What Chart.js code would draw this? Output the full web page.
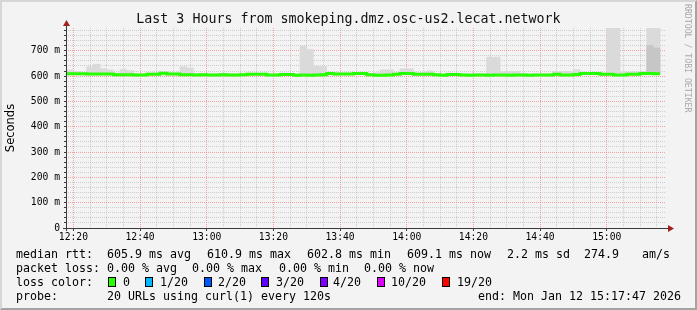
<!DOCTYPE html>
<html>
<head>
<meta charset="utf-8">
<script src="https://cdn.jsdelivr.net/npm/chart.js@4.4.1/dist/chart.umd.min.js"></script>
<style>
html,body{margin:0;padding:0;}
body{width:697px;height:310px;background:#f3f3f3;position:relative;overflow:hidden;font-family:"DejaVu Sans Mono",monospace;color:#000;}
#c{position:absolute;left:0;top:0;}
#frame{position:absolute;left:0;top:0;width:697px;height:310px;box-sizing:border-box;border-style:solid;border-width:2px;border-color:#d6d6d6 #a4a4a4 #a4a4a4 #d6d6d6;pointer-events:none;}
#title{position:absolute;left:0;width:697px;top:11px;text-align:center;font-size:13.3px;line-height:16px;white-space:pre;color:#111;}
#wm{position:absolute;left:683px;top:4px;writing-mode:vertical-rl;font-size:8.2px;color:#a9a9a9;white-space:pre;letter-spacing:0px;}
.t{position:absolute;white-space:pre;font-size:11.63px;line-height:14px;}
.box{position:absolute;width:8px;height:10px;box-sizing:border-box;border:1px solid #000;}
</style>
</head>
<body>
<canvas id="c" width="697" height="310"></canvas>
<div id="title">Last 3 Hours from smokeping.dmz.osc-us2.lecat.network</div>
<div id="wm">RRDTOOL / TOBI OETIKER</div>

<div class="t" style="left:16px;top:247px">median rtt:</div>
<div class="t" style="left:107px;top:247px">605.9 ms avg</div>
<div class="t" style="left:207px;top:247px">610.9 ms max</div>
<div class="t" style="left:307px;top:247px">602.8 ms min</div>
<div class="t" style="left:407px;top:247px">609.1 ms now</div>
<div class="t" style="left:507px;top:247px">2.2 ms sd</div>
<div class="t" style="left:584px;top:247px">274.9</div>
<div class="t" style="left:642px;top:247px">am/s</div>

<div class="t" style="left:16px;top:261px">packet loss:</div>
<div class="t" style="left:107px;top:261px">0.00 % avg</div>
<div class="t" style="left:192px;top:261px">0.00 % max</div>
<div class="t" style="left:279px;top:261px">0.00 % min</div>
<div class="t" style="left:364px;top:261px">0.00 % now</div>

<div class="t" style="left:16px;top:275px">loss color:</div>
<div id="lossLegend"></div>

<div class="t" style="left:16px;top:289px">probe:</div>
<div class="t" style="left:107px;top:289px">20 URLs using curl(1) every 120s</div>
<div class="t" style="left:478px;top:289px">end: Mon Jan 12 15:17:47 2026</div>

<div id="frame"></div>

<script>
// ---------- data (times in minutes since midnight, values in ms) ----------
const viewStartMinute = 737.783;   // 12:17:47
const viewEndMinute   = 917.783;   // 15:17:47
const firstStepMinute = 738;       // 12:18
const stepMinutes     = 2;

const medianMs = [
  609,609,609,608,608,608,608,605,605,605,
  604,604,607,607,611,608,608,605,605,604,
  605,604,604,605,604,604,605,607,607,607,
  604,604,606,606,603,604,603,604,605,610,
  608,608,608,610,610,605,603,603,604,607,
  610,610,607,607,607,605,603,606,606,604,
  603,604,604,603,604,604,603,604,604,603,
  604,604,604,607,604,604,606,610,610,610,
  607,607,604,604,607,607,610,610,609
];

const smokeMaxMs = [
  624,619,614,637,647,629,624,612,626,622,
  610,610,613,614,616,614,613,637,632,610,
  611,609,610,611,610,609,611,612,612,612,
  609,610,612,611,609,718,705,638,638,616,
  614,613,613,615,616,610,614,625,625,613,
  629,629,613,614,621,611,609,612,611,609,
  610,610,609,675,675,617,619,619,610,609,
  610,609,610,619,619,619,625,616,615,616,
  613,790,790,617,617,617,619,790,790
];

const smokeMinMs = [
  605,605,605,604,604,604,604,601,601,601,
  600,600,603,603,606,604,604,601,601,600,
  601,600,600,601,600,600,601,603,603,603,
  600,600,602,602,599,600,599,600,601,606,
  604,604,604,606,606,601,599,599,600,603,
  606,606,603,603,603,601,599,602,602,600,
  599,600,600,599,600,600,599,600,600,599,
  600,600,600,603,600,600,602,606,606,606,
  603,603,600,600,603,603,606,606,605
];

// darker inner smoke band (only where visible): step index, top value
const innerSteps = [87, 88];
const innerTopMs = [721, 711];

const xTickLabels = ['12:20','12:40','13:00','13:20','13:40','14:00','14:20','14:40','15:00'];
const yTickLabels = ['0','100 m','200 m','300 m','400 m','500 m','600 m','700 m'];

const lossLabels = ['0','1/20','2/20','3/20','4/20','10/20','19/20'];
const lossColors = ['#26ff00','#00b8ff','#0059ff','#5e00ff','#7e00ff','#dd00ff','#ff0000'];
const lossBoxX   = [108,145,204,261,320,377,442];
const lossTextX  = [123,160,218,276,333,391,457];

// ---------- legend boxes ----------
const ll = document.getElementById('lossLegend');
lossLabels.forEach((lab, i) => {
  const b = document.createElement('div');
  b.className = 'box';
  b.style.left = lossBoxX[i] + 'px';
  b.style.top = '277px';
  b.style.background = lossColors[i];
  ll.appendChild(b);
  const t = document.createElement('div');
  t.className = 't';
  t.style.left = lossTextX[i] + 'px';
  t.style.top = '275px';
  t.textContent = lab;
  ll.appendChild(t);
});

// ---------- datasets ----------
const medianPts = medianMs.map((v, i) => ({x: firstStepMinute + i * stepMinutes, y: v / 1000}));
medianPts.push({x: firstStepMinute + medianMs.length * stepMinutes, y: medianMs[medianMs.length - 1] / 1000});

const smokePts = smokeMaxMs.map((v, i) => ({x: firstStepMinute + i * stepMinutes + stepMinutes / 2, y: [smokeMinMs[i] / 1000, v / 1000]}));
const innerPts = innerSteps.map((s, k) => ({x: firstStepMinute + s * stepMinutes + stepMinutes / 2, y: [medianMs[s] / 1000, innerTopMs[k] / 1000]}));

const isMajorX = v => Math.round(v) % 20 === 0;
const isMajorY = v => Math.round(v * 1000) % 100 === 0;
const MAJOR = 'rgba(240,110,110,0.6)';
const MINOR = 'rgba(160,160,160,0.45)';
const AXIS = '#3a3a3a';
const ARROW = '#a11f1f';

const axisPlugin = {
  id: 'rrdAxes',
  afterDatasetsDraw(chart) {
    const {ctx, chartArea: a} = chart;
    ctx.save();
    ctx.strokeStyle = AXIS;
    ctx.lineWidth = 1;
    ctx.beginPath();
    ctx.moveTo(a.left + 0.5, a.bottom + 3);
    ctx.lineTo(a.left + 0.5, a.top - 5);
    ctx.moveTo(a.left - 3, a.bottom + 0.5);
    ctx.lineTo(a.right + 5, a.bottom + 0.5);
    ctx.stroke();
    ctx.fillStyle = ARROW;
    ctx.beginPath();
    ctx.moveTo(a.left + 0.5, a.top - 8);
    ctx.lineTo(a.left - 3, a.top - 2);
    ctx.lineTo(a.left + 4, a.top - 2);
    ctx.closePath();
    ctx.fill();
    ctx.beginPath();
    ctx.moveTo(a.right + 8, a.bottom + 0.5);
    ctx.lineTo(a.right + 2, a.bottom - 3);
    ctx.lineTo(a.right + 2, a.bottom + 4);
    ctx.closePath();
    ctx.fill();
    ctx.restore();
  }
};

Chart.defaults.font.family = '"DejaVu Sans Mono", monospace';
Chart.defaults.color = '#000';

new Chart(document.getElementById('c'), {
  type: 'bar',
  data: {
    datasets: [
      {type: 'line', label: 'median rtt', data: medianPts, borderColor: '#26ff00', borderWidth: 3,
       stepped: true, pointRadius: 0, fill: false, order: 0, borderCapStyle: 'butt', borderJoinStyle: 'miter'},
      {type: 'bar', label: 'smoke inner', data: innerPts, backgroundColor: '#c6c6c6', order: 1,
       grouped: false, barPercentage: 1, categoryPercentage: 1, borderWidth: 0},
      {type: 'bar', label: 'smoke', data: smokePts, backgroundColor: '#dadada', order: 2,
       grouped: false, barPercentage: 1, categoryPercentage: 1, borderWidth: 0}
    ]
  },
  options: {
    responsive: false,
    animation: false,
    devicePixelRatio: 1,
    layout: {padding: {left: 0, right: 31, top: 28, bottom: 62}},
    plugins: {legend: {display: false}, tooltip: {enabled: false}, title: {display: false}},
    scales: {
      x: {
        type: 'linear', min: viewStartMinute, max: viewEndMinute, offset: false,
        afterBuildTicks(scale) {
          const t = [];
          for (let m = 740; m <= 915; m += 5) t.push({value: m});
          scale.ticks = t;
        },
        afterFit(scale) { scale.height = 20; },
        grid: {offset: false, drawTicks: true, tickLength: 3, lineWidth: 1,
               color: c => isMajorX(c.tick.value) ? MAJOR : MINOR,
               tickColor: c => isMajorX(c.tick.value) ? AXIS : 'rgba(0,0,0,0)'},
        border: {display: false, dash: [1, 1]},
        ticks: {autoSkip: false, maxRotation: 0, minRotation: 0, padding: 1,
                font: {size: 9.7},
                callback: v => isMajorX(v) ? xTickLabels[Math.round((v - 740) / 20)] : ''}
      },
      y: {
        type: 'linear', min: 0, max: 0.79,
        afterBuildTicks(scale) {
          const t = [];
          for (let k = 0; k <= 39; k++) t.push({value: k * 0.02});
          scale.ticks = t;
        },
        afterFit(scale) { scale.width = 66; },
        title: {display: true, text: 'Seconds', font: {family: '"DejaVu Sans", sans-serif', size: 11.5}, color: '#000', padding: {top: 4, bottom: 4}},
        grid: {drawTicks: true, tickLength: 2, lineWidth: 1,
               color: c => c.tick.value === 0 ? 'rgba(0,0,0,0)' : (isMajorY(c.tick.value) ? MAJOR : MINOR),
               tickColor: AXIS},
        border: {display: false, dash: [1, 1]},
        ticks: {autoSkip: false, padding: 4, font: {size: 9.7},
                callback: v => isMajorY(v) ? yTickLabels[Math.round(v * 10)] : ''}
      }
    }
  },
  plugins: [axisPlugin]
});
</script>
</body>
</html>
